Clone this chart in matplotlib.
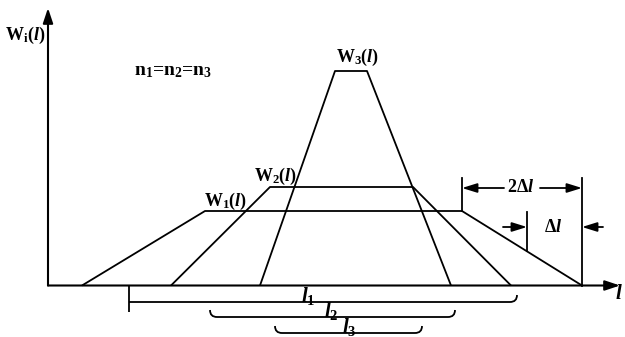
import matplotlib
matplotlib.use("Agg")
import matplotlib.pyplot as plt
from matplotlib.path import Path
from matplotlib.patches import PathPatch

plt.rcParams["mathtext.fontset"] = "custom"
plt.rcParams["mathtext.rm"] = "Liberation Serif:bold"
plt.rcParams["mathtext.it"] = "Liberation Serif:bold:italic"
plt.rcParams["mathtext.bf"] = "Liberation Serif:bold"
plt.rcParams["font.family"] = "Liberation Serif"
plt.rcParams["font.weight"] = "bold"

# trapezoid windows W1, W2, W3 (pixel coordinates, y grows downward)
bottom_left = [82, 171, 260]
top_left = [205, 270, 335]
top_right = [462, 413, 367]
bottom_right = [582, 511, 451]
top_y = [211, 187, 71]
axis_y = 285.5
axis_x = 48

# widths l1, l2, l3 shown as braces under the axis
span_left = [129, 210, 275]
span_right = [517, 455, 422]
span_y = [302, 317, 333]
span_labels = [r"$l_1$", r"$l_2$", r"$l_3$"]

curve_labels = [r"$\mathrm{W}_1(l)$", r"$\mathrm{W}_2(l)$", r"$\mathrm{W}_3(l)$"]
label_pos = [(226, 201), (276, 176), (358, 57)]

fig = plt.figure(figsize=(6.25, 3.37), dpi=100)
ax = fig.add_axes([0, 0, 1, 1])
ax.set_xlim(0, 625)
ax.set_ylim(337, 0)
ax.axis("off")

lw = 1.3
fs = 13

# axes with arrow heads
ax.annotate("", xy=(axis_x, 8), xytext=(axis_x, axis_y),
            arrowprops=dict(arrowstyle="-|>,head_length=0.9,head_width=0.3",
                            lw=1.5, color="black", shrinkA=0, shrinkB=0))
ax.annotate("", xy=(620, axis_y), xytext=(axis_x, axis_y),
            arrowprops=dict(arrowstyle="-|>,head_length=0.9,head_width=0.3",
                            lw=1.5, color="black", shrinkA=0, shrinkB=0))
ax.text(5, 35, r"$\mathrm{W}_\mathrm{i}(l)$", fontsize=fs, ha="left", va="center")
ax.text(615, 294, r"$l$", fontsize=fs + 2, ha="left", va="center")
ax.text(134, 71, r"n$_1$=n$_2$=n$_3$", fontsize=fs + 1, fontweight="bold",
        ha="left", va="center")

for i in range(3):
    xs = [bottom_left[i], top_left[i], top_right[i], bottom_right[i]]
    ys = [axis_y, top_y[i], top_y[i], axis_y]
    ax.plot(xs, ys, color="black", lw=lw, solid_capstyle="butt")
    ax.text(label_pos[i][0], label_pos[i][1], curve_labels[i], fontsize=fs,
            ha="center", va="center")

arrow = dict(arrowstyle="-|>,head_length=0.9,head_width=0.28",
             lw=lw, color="black", shrinkA=0, shrinkB=0)

# 2*delta l dimension
ax.plot([top_right[0], top_right[0]], [178, top_y[0]], color="black", lw=lw)
ax.plot([bottom_right[0], bottom_right[0]], [178, axis_y], color="black", lw=lw)
ax.annotate("", xy=(top_right[0], 188), xytext=(504, 188), arrowprops=arrow)
ax.annotate("", xy=(bottom_right[0], 188), xytext=(540, 188), arrowprops=arrow)
ax.text(521, 188, r"$2\Delta l$", fontsize=fs, ha="center", va="center")

# delta l dimension
mid_x = 527
mid_y = top_y[0] + (axis_y - top_y[0]) * (mid_x - top_right[0]) / (bottom_right[0] - top_right[0])
ax.plot([mid_x, mid_x], [212, mid_y], color="black", lw=lw)
ax.annotate("", xy=(mid_x, 227), xytext=(503, 227), arrowprops=arrow)
ax.annotate("", xy=(bottom_right[0], 227), xytext=(603, 227), arrowprops=arrow)
ax.text(553, 227, r"$\Delta l$", fontsize=fs, ha="center", va="center")


def brace(x0, x1, y, left_tick=False):
    r = 7
    if left_tick:
        verts = [(x0, axis_y), (x0, y + 10), (x0, y), (x1 - r, y)]
        codes = [Path.MOVETO, Path.LINETO, Path.MOVETO, Path.LINETO]
    else:
        verts = [(x0, y - r), (x0, y), (x0 + r, y), (x1 - r, y)]
        codes = [Path.MOVETO, Path.CURVE3, Path.CURVE3, Path.LINETO]
    verts += [(x1, y), (x1, y - r)]
    codes += [Path.CURVE3, Path.CURVE3]
    ax.add_patch(PathPatch(Path(verts, codes), fill=False, lw=lw, color="black"))


for i in range(3):
    brace(span_left[i], span_right[i], span_y[i], left_tick=(i == 0))

label_x = [308, 331, 349]
for i in range(3):
    ax.text(label_x[i], span_y[i] - 6, span_labels[i], fontsize=fs + 2,
            ha="center", va="center")

fig.savefig("out.png", dpi=100)
